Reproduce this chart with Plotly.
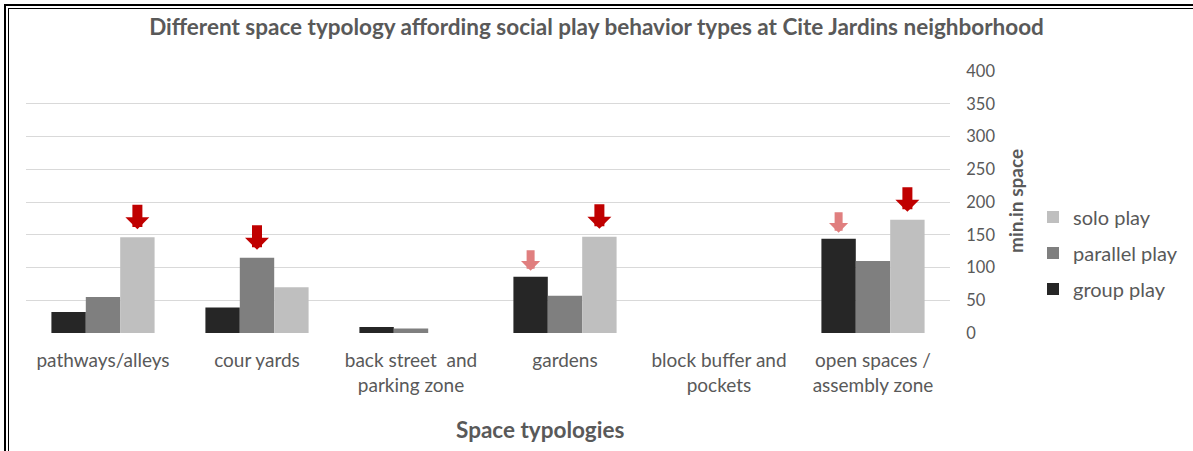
import plotly.graph_objects as go

categories = ["pathways/alleys", "cour yards", "back street  and<br>parking zone",
              "gardens", "block buffer and<br>pockets", "open spaces /<br>assembly zone"]
series_names = ["group play", "parallel play", "solo play"]
group_play = [32, 39, 9, 86, 0, 144]
parallel_play = [55, 115, 7, 57, 0, 110]
solo_play = [146, 70, 0, 147, 0, 173]
colors = ["#262626", "#7F7F7F", "#BFBFBF"]
legend_ranks = [3, 2, 1]
y_ticks = [0, 50, 100, 150, 200, 250, 300, 350, 400]
highlights = [(0, 2, True), (1, 1, True), (3, 0, False), (3, 2, True), (5, 0, False), (5, 2, True)]

W, H = 1193, 451
ML, MR, MT, MB = 26, 243, 71, 118
PW, PH = W - ML - MR, H - MT - MB
BARGAP = 0.33
FONT = "Lato"
TXT = "#595959"

def px_x(p):
    return (p - ML) / PW

def px_y(p):
    return (H - MB - p) / PH

fig = go.Figure()
values = [group_play, parallel_play, solo_play]
for name, vals, col, rk in zip(series_names, values, colors, legend_ranks):
    fig.add_trace(go.Bar(x=categories, y=vals, name=name, marker_color=col,
                         marker_line_width=0, legendgroup=name, legendrank=rk))

cat_w = PW / len(categories)
bar_w = cat_w * (1 - BARGAP) / 3
annotations = []
for ci, si, strong in highlights:
    v = values[si][ci]
    annotations.append(dict(
        x=categories[ci], y=v, xref="x", yref="y", text="",
        showarrow=True, arrowhead=1,
        arrowwidth=10 if strong else 8, arrowsize=0.4,
        arrowcolor="#C00000" if strong else "#E07F7F",
        ax=0, ay=-26 if strong else -22,
        xshift=(si - 1) * bar_w, yshift=8 if strong else 6,
    ))

annotations.append(dict(text="<b>Space typologies</b>", x=px_x(540), y=px_y(429),
                        xref="paper", yref="paper", showarrow=False,
                        font=dict(family=FONT, size=22.5, color=TXT),
                        xanchor="center", yanchor="middle"))
annotations.append(dict(text="<b>min.in space</b>", x=px_x(1015), y=px_y(201),
                        xref="paper", yref="paper", showarrow=False, textangle=-90,
                        font=dict(family=FONT, size=19, color=TXT),
                        xanchor="center", yanchor="middle"))

def frame_bar(x0, y0, x1, y1):
    return dict(type="rect", xref="paper", yref="paper",
                x0=px_x(x0), x1=px_x(x1), y0=px_y(y0), y1=px_y(y1),
                fillcolor="black", line=dict(width=0), layer="above")

shapes = [
    frame_bar(4, 4, 1193, 6),
    frame_bar(8, 8, 1193, 9),
    frame_bar(4, 4, 6, 451),
    frame_bar(8, 8, 9, 451),
]

fig.update_layout(
    width=W, height=H,
    margin=dict(l=ML, r=MR, t=MT, b=MB, autoexpand=False),
    paper_bgcolor="white", plot_bgcolor="white",
    barmode="group", bargap=BARGAP, bargroupgap=0,
    title=dict(text="<b>Different space typology affording social play behavior types at Cite Jardins neighborhood</b>",
               x=0.5, xref="container", xanchor="center", y=1 - 27 / H, yref="container", yanchor="middle",
               font=dict(family=FONT, size=22.5, color=TXT)),
    font=dict(family=FONT, color=TXT),
    xaxis=dict(tickfont=dict(family=FONT, size=19, color=TXT), showline=False,
               ticks="outside", ticklen=0, tickcolor="white", ticklabelstandoff=10,
               showgrid=False, zeroline=False),
    yaxis=dict(side="right", range=[0, 400], tickvals=y_ticks,
               tickfont=dict(family=FONT, size=16.5, color=TXT),
               showgrid=True, gridcolor="#D9D9D9", gridwidth=1, zeroline=False,
               showline=False, ticks="outside", ticklen=0, tickcolor="white",
               ticklabelstandoff=12),
    legend=dict(x=px_x(1033), y=px_y(253), xanchor="left", yanchor="middle",
                traceorder="grouped", tracegroupgap=7,
                font=dict(family=FONT, size=20, color=TXT), bgcolor="rgba(0,0,0,0)"),
    annotations=annotations, shapes=shapes,
)

page_js = (
    "document.documentElement.style.margin='0';"
    "document.body.style.margin='0';"
    "document.documentElement.style.overflow='hidden';"
    "window.scrollTo(0,0);"
)

fig.write_html("out.html", post_script=page_js, config={"displayModeBar": False})
